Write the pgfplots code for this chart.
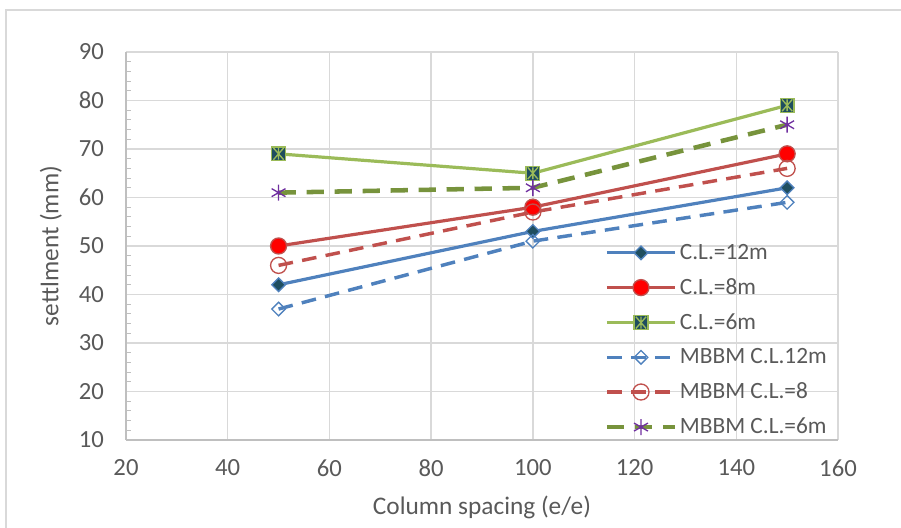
\documentclass[border=0pt]{standalone}
\usepackage{pgfplots}
\pgfplotsset{compat=1.18}
\usepackage{fontspec}
\setmainfont{Carlito}
\definecolor{txt}{HTML}{595959}
\definecolor{gridc}{HTML}{D9D9D9}
\definecolor{axc}{HTML}{BFBFBF}
\definecolor{cblue}{HTML}{4F81BD}
\definecolor{cred}{HTML}{C0504D}
\definecolor{cgreen}{HTML}{9BBB59}
\definecolor{dgreen}{HTML}{77933C}
\definecolor{teal}{HTML}{1F4E5F}
\definecolor{cpurple}{HTML}{7030A0}
\pgfdeclareplotmark{sqast}{%
  \pgfpathrectangle{\pgfqpoint{-\pgfplotmarksize}{-\pgfplotmarksize}}{\pgfqpoint{2\pgfplotmarksize}{2\pgfplotmarksize}}%
  \pgfusepathqfillstroke
  \pgfpathmoveto{\pgfqpoint{0pt}{0.85\pgfplotmarksize}}\pgfpathlineto{\pgfqpoint{0pt}{-0.85\pgfplotmarksize}}%
  \pgfpathmoveto{\pgfqpoint{0.74\pgfplotmarksize}{0.85\pgfplotmarksize}}\pgfpathlineto{\pgfqpoint{-0.74\pgfplotmarksize}{-0.85\pgfplotmarksize}}%
  \pgfpathmoveto{\pgfqpoint{-0.74\pgfplotmarksize}{0.85\pgfplotmarksize}}\pgfpathlineto{\pgfqpoint{0.74\pgfplotmarksize}{-0.85\pgfplotmarksize}}%
  \pgfusepathqstroke
}
\begin{document}
\begin{tikzpicture}
\begin{axis}[name=ax,
  scale only axis, width=534pt, height=291pt,
  xmin=20, xmax=160, ymin=10, ymax=90,
  xtick={20,40,...,160}, ytick={10,20,...,90},
  minor y tick num=4,
  axis x line*=bottom, axis y line*=left,
  axis line style={axc, line width=1pt, -},
  grid=major, major grid style={gridc, line width=1pt},
  major tick length=0pt, minor tick length=4pt,
  tick align=inside, ytick pos=left, xtick pos=bottom,
  minor tick style={axc, line width=0.8pt},
  tick label style={font=\fontsize{18.5}{22}\selectfont, text=txt},
  /pgf/number format/assume math mode=true,
  xticklabel style={yshift=-11pt},
  yticklabel style={xshift=-13pt},
  xlabel={Column spacing (e/e)}, ylabel={settlment (mm)},
  label style={font=\fontsize{19}{22}\selectfont, text=txt},
  xlabel style={yshift=-8pt},
  ylabel style={yshift=6pt},
  legend style={at={(0.672,0.512)}, anchor=north west, draw=none, fill=none,
    font=\fontsize{17.5}{20}\selectfont, text=txt, row sep=8.9pt,
    inner sep=0pt},
  legend cell align=left,
  legend image code/.code={\draw[mark repeat=2,mark phase=2,#1] plot coordinates {(0pt,0pt)(25.5pt,0pt)(51pt,0pt)};},
]
\addplot[cblue, line width=2.4pt, mark=square*, mark size=3.6pt, mark options={solid, rotate=45, draw=cblue, fill=teal, line width=1pt}]
  coordinates {(50,42) (100,53) (150,62)};
\addlegendentry{C.L.=12m}
\addplot[cred, line width=2.4pt, mark=*, mark size=6pt, mark options={solid, draw=cred, fill=red, line width=1pt}]
  coordinates {(50,50) (100,58) (150,69)};
\addlegendentry{C.L.=8m}
\addplot[cgreen, line width=2.4pt, mark=sqast, mark size=5.2pt, mark options={solid, draw=cgreen, fill=teal, line width=1pt}]
  coordinates {(50,69) (100,65) (150,79)};
\addlegendentry{C.L.=6m}
\addplot[cblue, line width=2.6pt, dash pattern=on 11pt off 7pt, mark=square, mark size=3.6pt, mark options={solid, rotate=45, draw=cblue, line width=1pt}]
  coordinates {(50,37) (100,51) (150,59)};
\addlegendentry{MBBM C.L.12m}
\addplot[cred, line width=2.6pt, dash pattern=on 11pt off 7pt, mark=o, mark size=6pt, mark options={solid, draw=cred, line width=1pt}]
  coordinates {(50,46) (100,57) (150,66)};
\addlegendentry{MBBM C.L.=8}
\addplot[dgreen, line width=3.4pt, dash pattern=on 13pt off 8pt, mark=asterisk, mark size=6pt, mark options={solid, draw=cpurple, line width=1pt}]
  coordinates {(50,61) (100,62) (150,75)};
\addlegendentry{MBBM C.L.=6m}
\end{axis}
\pgfresetboundingbox
\path[use as bounding box] ([shift={(-94.5pt,-66pt)}]ax.south west) rectangle ([shift={(47.25pt,39pt)}]ax.north east);
\draw[gridc, line width=1pt] ([shift={(-90pt,-70pt)}]ax.south west) -- ([shift={(-90pt,31.5pt)}]ax.north west) -- ([shift={(52pt,31.5pt)}]ax.north east);
\end{tikzpicture}
\end{document}
